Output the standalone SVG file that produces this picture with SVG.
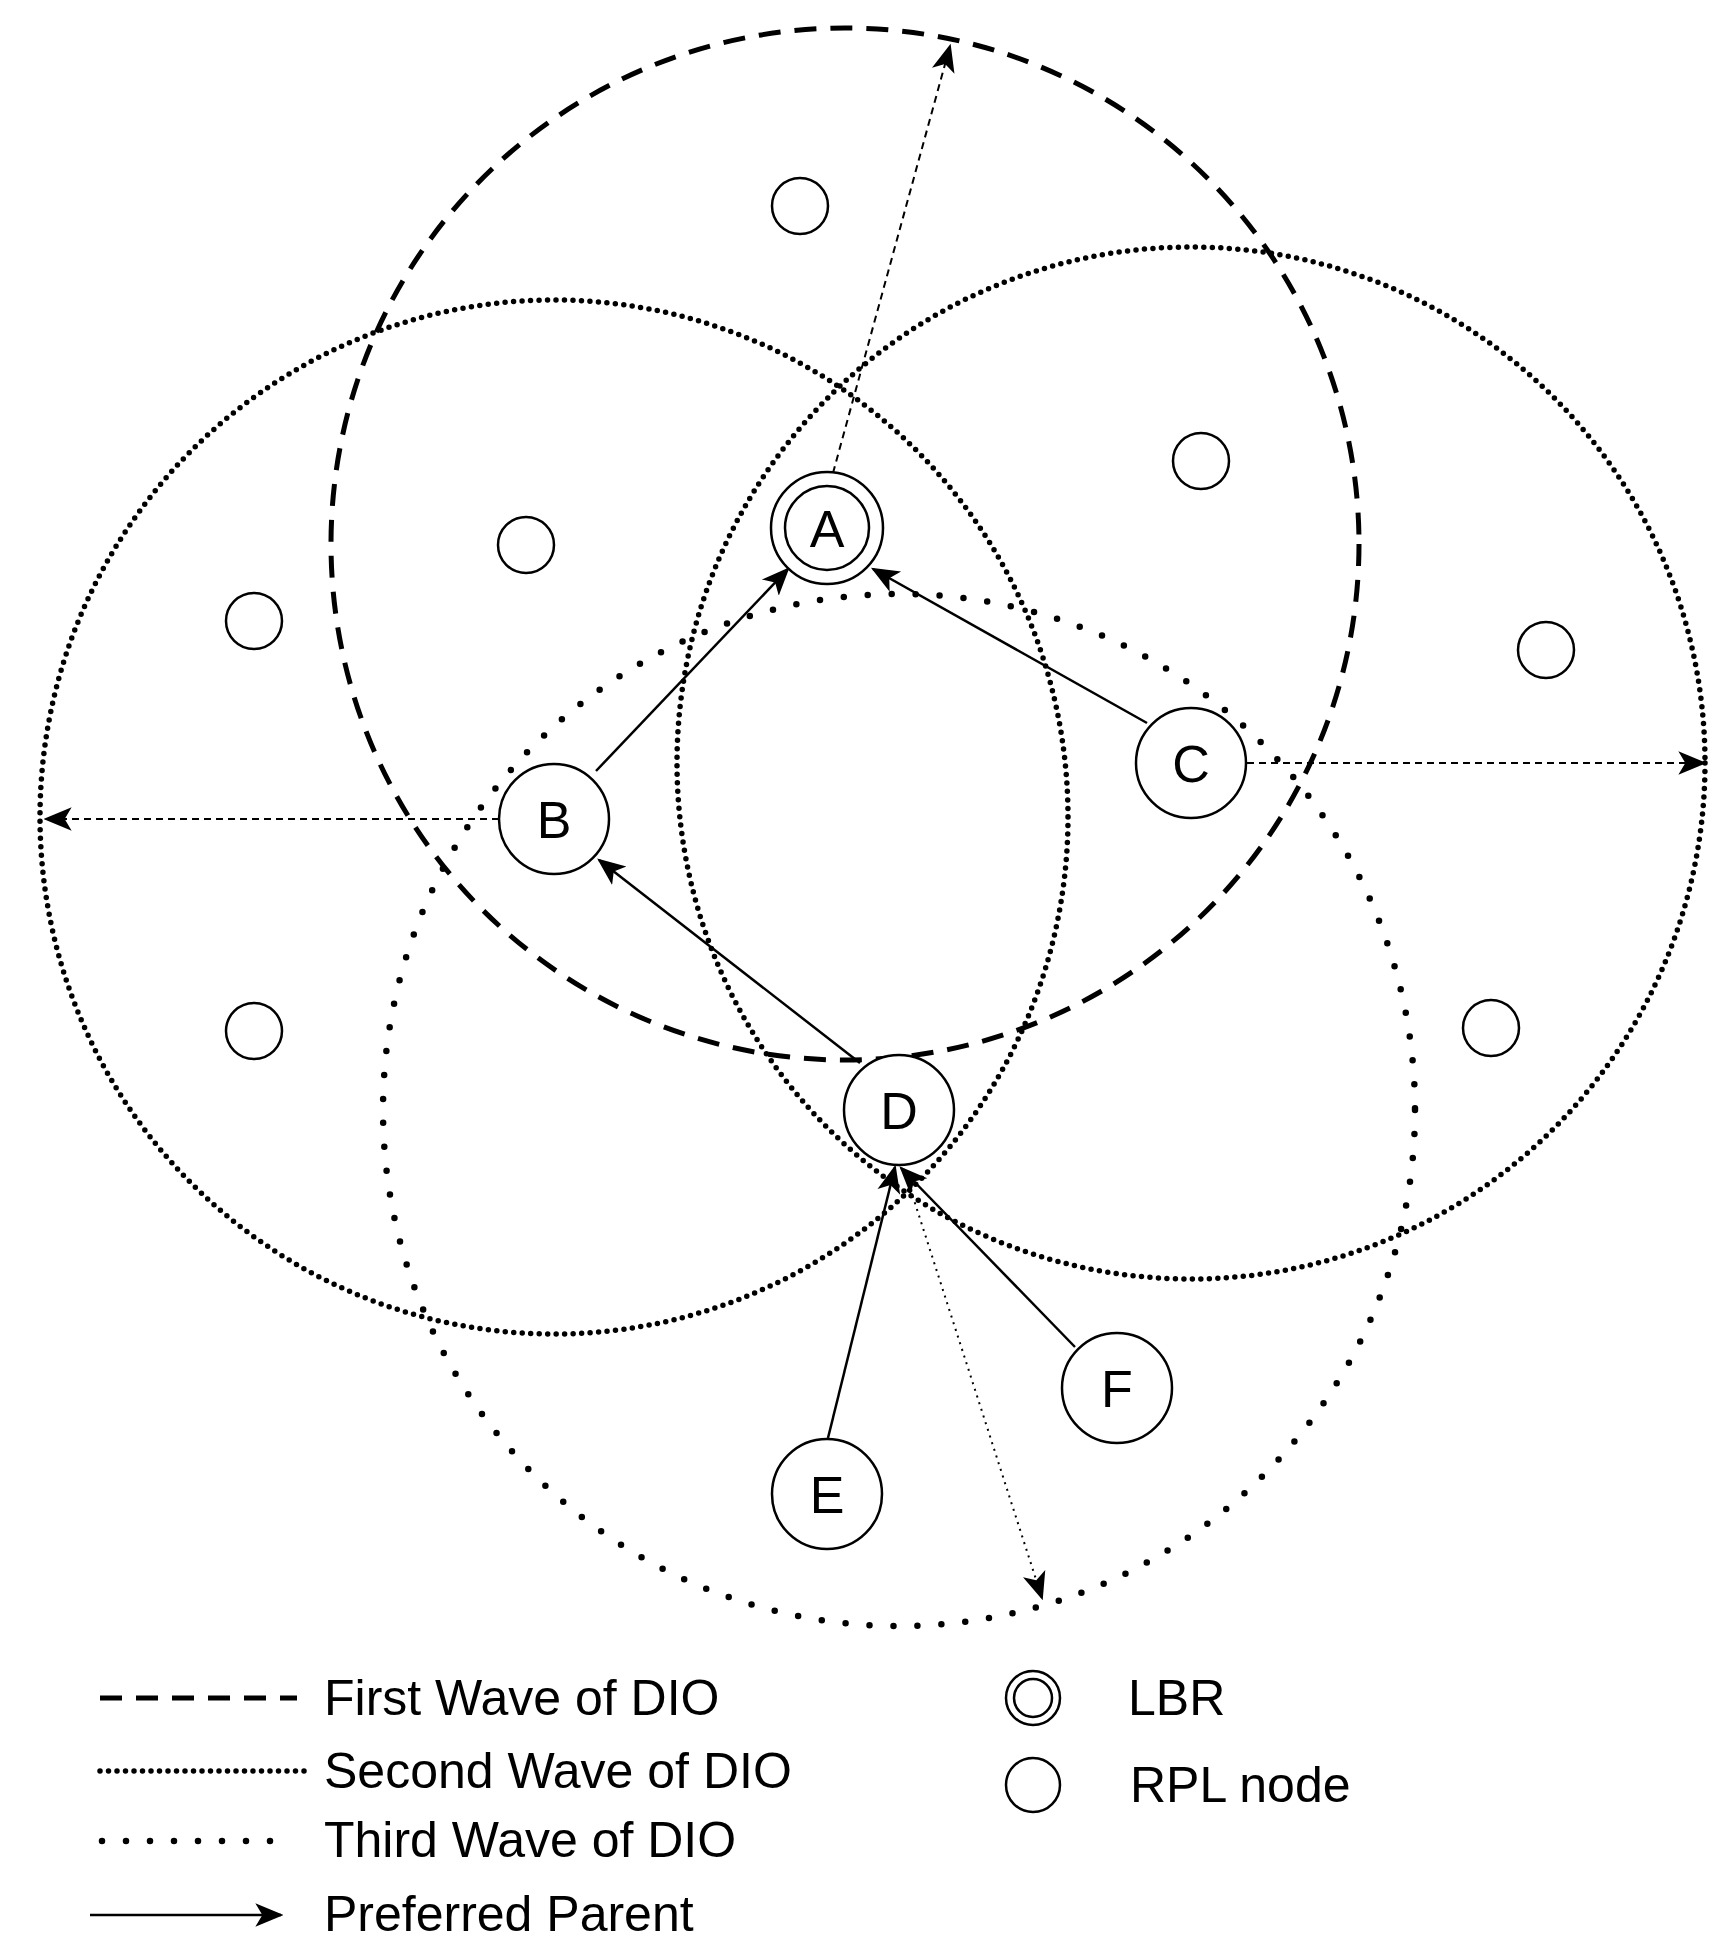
<svg xmlns="http://www.w3.org/2000/svg" width="1733" height="1960" viewBox="0 0 1733 1960">
<style>
.n{fill:#fff;stroke:#000;stroke-width:2.5}
.s{fill:none;stroke:#000;stroke-width:2.5}
.w1{fill:none;stroke:#000;stroke-width:5;stroke-dasharray:22 14}
.w2{fill:none;stroke:#000;stroke-width:5.5;stroke-dasharray:0 8.5;stroke-linecap:round}
.w3{fill:none;stroke:#000;stroke-width:6.5;stroke-dasharray:0 24;stroke-linecap:round}
.t{font-family:"Liberation Sans",Arial,sans-serif;font-size:52px;fill:#000;text-anchor:middle}
.l{font-family:"Liberation Sans",Arial,sans-serif;font-size:50px;fill:#000}
.pp{stroke:#000;stroke-width:2.5;fill:none}
.da{stroke:#000;stroke-width:2;fill:none;stroke-dasharray:7 5}
.do{stroke:#000;stroke-width:2;fill:none;stroke-dasharray:2 5}
</style>
<defs>
<marker id="arl" viewBox="0 0 12 12" refX="11" refY="6" markerWidth="28" markerHeight="28" markerUnits="userSpaceOnUse" orient="auto"><path d="M0,1 L12,6 L0,11 L3,6 Z" fill="#000"/></marker>
</defs>
<g id="waves">
<ellipse class="w1" cx="845" cy="544" rx="514" ry="516"/>
<ellipse class="w2" cx="554" cy="817" rx="514" ry="517"/>
<ellipse class="w2" cx="1191" cy="763" rx="514" ry="516"/>
<ellipse class="w3" cx="899" cy="1110" rx="516" ry="516"/>
</g>
<g id="connectors">
<line class="da" x1="833" y1="473" x2="950" y2="46" marker-end="url(#arl)"/>
<line class="da" x1="499" y1="819" x2="46" y2="819" marker-end="url(#arl)"/>
<line class="da" x1="1247" y1="763" x2="1704" y2="763" marker-end="url(#arl)"/>
<line class="do" x1="904" y1="1169" x2="1042" y2="1598" marker-end="url(#arl)"/>
<line class="pp" x1="596" y1="771" x2="788" y2="569" marker-end="url(#arl)"/>
<line class="pp" x1="1147" y1="723" x2="873" y2="569" marker-end="url(#arl)"/>
<line class="pp" x1="860" y1="1063" x2="599" y2="860" marker-end="url(#arl)"/>
<line class="pp" x1="828" y1="1438" x2="895" y2="1167" marker-end="url(#arl)"/>
<line class="pp" x1="1075" y1="1347" x2="901" y2="1168" marker-end="url(#arl)"/>
</g>
<g id="A"><circle class="n" cx="827" cy="528" r="56"/><circle class="s" cx="827" cy="528" r="42"/><text class="t" x="827" y="547">A</text></g>
<g id="B"><circle class="n" cx="554" cy="819" r="55"/><text class="t" x="554" y="838">B</text></g>
<g id="C"><circle class="n" cx="1191" cy="763" r="55"/><text class="t" x="1191" y="782">C</text></g>
<g id="D"><circle class="n" cx="899" cy="1110" r="55"/><text class="t" x="899" y="1129">D</text></g>
<g id="E"><circle class="n" cx="827" cy="1494" r="55"/><text class="t" x="827" y="1513">E</text></g>
<g id="F"><circle class="n" cx="1117" cy="1388" r="55"/><text class="t" x="1117" y="1407">F</text></g>
<g id="rpl-nodes">
<circle class="n" cx="800" cy="206" r="28"/>
<circle class="n" cx="526" cy="545" r="28"/>
<circle class="n" cx="254" cy="621" r="28"/>
<circle class="n" cx="254" cy="1031" r="28"/>
<circle class="n" cx="1201" cy="461" r="28"/>
<circle class="n" cx="1546" cy="650" r="28"/>
<circle class="n" cx="1491" cy="1028" r="28"/>
</g>
<g id="legend">
<line class="w1" x1="100" y1="1698" x2="297" y2="1698"/>
<text class="l" x="324" y="1715">First Wave of DIO</text>
<line class="w2" x1="100" y1="1771" x2="305" y2="1771"/>
<text class="l" x="324" y="1788">Second Wave of DIO</text>
<line class="w3" x1="102" y1="1841" x2="290" y2="1841"/>
<text class="l" x="324" y="1857">Third Wave of DIO</text>
<line class="pp" x1="90" y1="1915" x2="281" y2="1915" marker-end="url(#arl)"/>
<text class="l" x="324" y="1931">Preferred Parent</text>
<circle class="s" cx="1033" cy="1698" r="27"/><circle class="s" cx="1033" cy="1698" r="19"/>
<text class="l" x="1128" y="1715">LBR</text>
<circle class="s" cx="1033" cy="1785" r="27"/>
<text class="l" x="1130" y="1802">RPL node</text>
</g>
</svg>
